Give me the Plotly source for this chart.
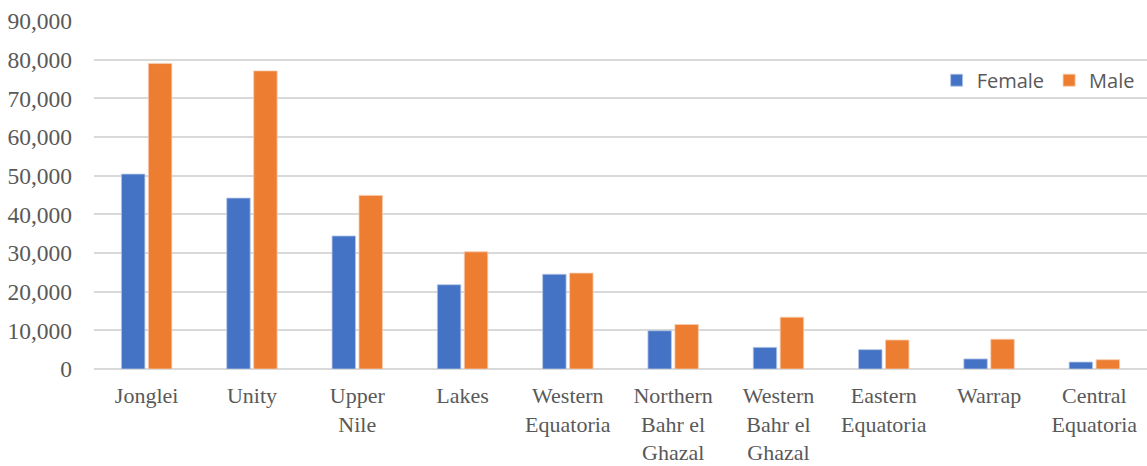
import plotly.graph_objects as go

# Displaced population by state and sex
states = ["Jonglei", "Unity", "Upper<br>Nile", "Lakes", "Western<br>Equatoria",
          "Northern<br>Bahr el<br>Ghazal", "Western<br>Bahr el<br>Ghazal",
          "Eastern<br>Equatoria", "Warrap", "Central<br>Equatoria"]
female = [50400, 44200, 34400, 21800, 24500, 9900, 5600, 5000, 2600, 1800]
male = [79000, 77100, 44900, 30300, 24800, 11500, 13400, 7500, 7700, 2400]
y_ticks = [0, 10000, 20000, 30000, 40000, 50000, 60000, 70000, 80000, 90000]

fig = go.Figure()
fig.add_trace(go.Bar(x=states, y=female, name="Female",
                     marker=dict(color="#4472C4", line=dict(color="#B4C7E7", width=0.8))))
fig.add_trace(go.Bar(x=states, y=male, name="Male",
                     marker=dict(color="#ED7D31", line=dict(color="#F8CBAD", width=0.8))))

fig.update_layout(
    width=1147, height=466,
    margin=dict(l=94, r=0, t=21, b=97),
    paper_bgcolor="white", plot_bgcolor="white",
    barmode="group", bargap=0.488, bargroupgap=0.13,
    font=dict(family="Liberation Serif", color="#595959"),
    legend=dict(orientation="h", x=0.993, y=0.83, xanchor="right", yanchor="middle",
                font=dict(family="Open Sans", size=20, color="#595959"),
                itemwidth=30, bgcolor="rgba(0,0,0,0)"),
    showlegend=True,
)
fig.update_xaxes(showgrid=False, showline=False, ticks="", tickfont=dict(size=22),
                 ticklabelstandoff=11)
fig.update_yaxes(range=[0, 90000], tickvals=y_ticks, tickformat=",d",
                 showgrid=True, gridcolor="#D9D9D9", gridwidth=1.5,
                 zeroline=True, zerolinecolor="#D9D9D9", zerolinewidth=1.5,
                 showline=False, ticks="", tickfont=dict(size=23.5),
                 ticklabelstandoff=21)

fig.write_html("out.html")
